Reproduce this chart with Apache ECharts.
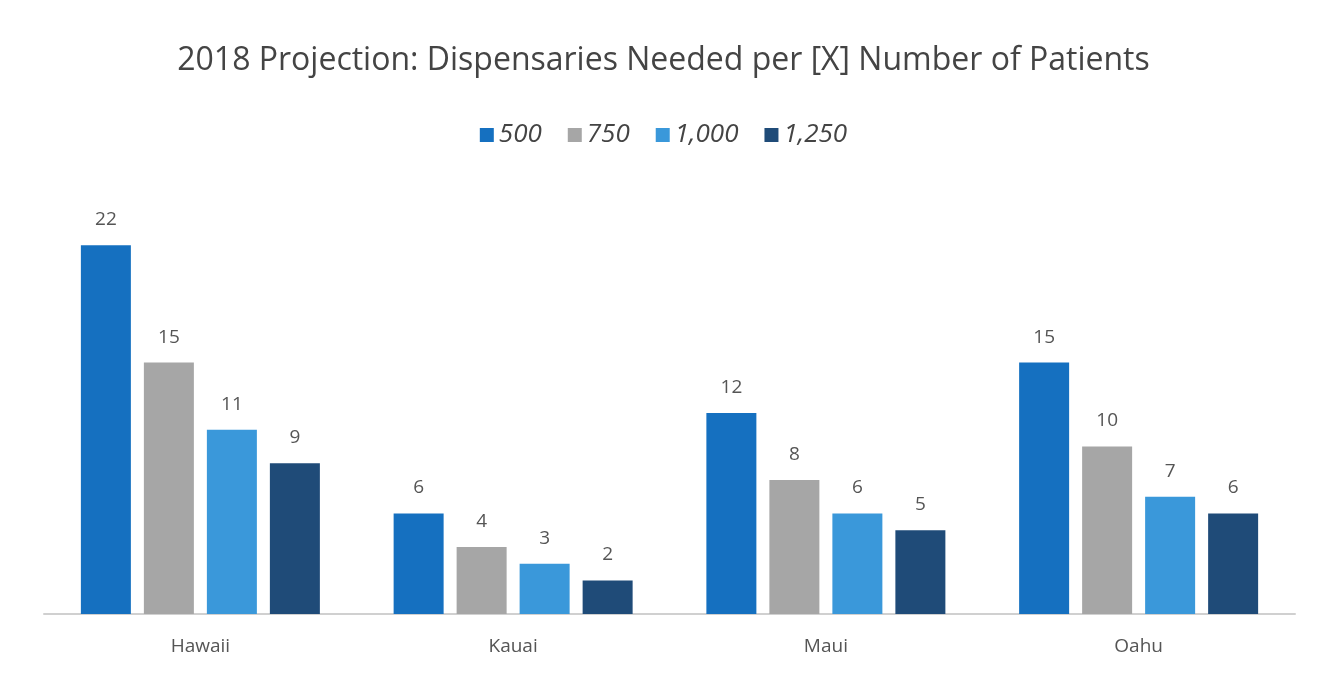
<!DOCTYPE html>
<html><head><meta charset="utf-8">
<script src="https://cdn.jsdelivr.net/npm/echarts@6/dist/echarts.min.js"></script>
<style>html,body{margin:0;padding:0;background:#fff}#c{width:1327px;height:677px}</style>
</head><body><div id="c"></div>
<script>
const categories = ['Hawaii', 'Kauai', 'Maui', 'Oahu'];
const seriesNames = ['500', '750', '1,000', '1,250'];
const v500 = [22, 6, 12, 15];
const v750 = [15, 4, 8, 10];
const v1000 = [11, 3, 6, 7];
const v1250 = [9, 2, 5, 6];
const values = [v500, v750, v1000, v1250];
const colors = ['#1570C0', '#A6A6A6', '#3A98DA', '#1F4B78'];

const chart = echarts.init(document.getElementById('c'));
chart.setOption({
  animation: false,
  title: {
    text: '2018 Projection: Dispensaries Needed per [X] Number of Patients',
    left: 'center', top: 40,
    textStyle: {fontFamily: 'Open Sans', fontSize: 32, fontWeight: 'normal', color: '#444'}
  },
  legend: {
    top: 117, left: 'center', itemWidth: 14, itemHeight: 14, itemGap: 26,
    icon: 'rect',
    textStyle: {fontFamily: 'Open Sans', fontSize: 26, fontStyle: 'italic', color: '#444'},
    data: seriesNames
  },
  grid: {left: 44, right: 32, top: 195, bottom: 63},
  xAxis: {
    type: 'category', data: categories,
    axisLine: {lineStyle: {color: '#d0d0d0', width: 2}},
    axisTick: {show: false},
    axisLabel: {fontFamily: 'Open Sans', fontSize: 19, color: '#555', margin: 23}
  },
  yAxis: {type: 'value', min: 0, max: 25, show: false, splitLine: {show: false}},
  series: values.map((d, i) => ({
    name: seriesNames[i], type: 'bar', data: d,
    barWidth: 50, barGap: '26%',
    itemStyle: {color: colors[i]},
    label: {show: true, position: 'top', distance: 16, fontFamily: 'Open Sans', fontSize: 19, color: '#555'}
  }))
});
</script></body></html>
